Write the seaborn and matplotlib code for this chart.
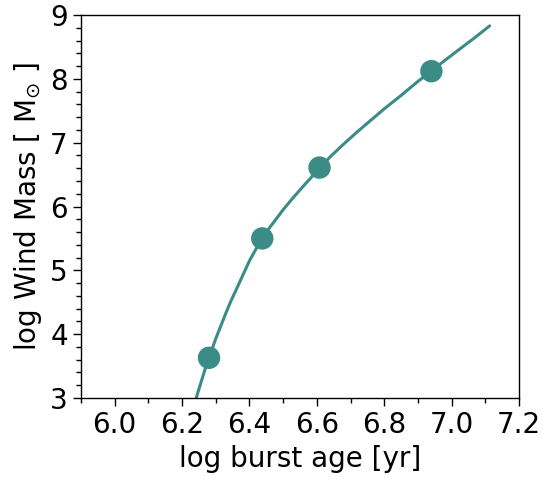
import matplotlib
matplotlib.use("Agg")
import matplotlib.pyplot as plt
import seaborn as sns
import pandas as pd
from matplotlib.ticker import MultipleLocator

# Curve
curve_age = [6.242, 6.25, 6.26, 6.27, 6.28, 6.29, 6.30, 6.315, 6.33, 6.345,
             6.36, 6.38, 6.40, 6.42, 6.438, 6.46, 6.50, 6.53, 6.56, 6.608,
             6.64, 6.68, 6.72, 6.76, 6.80, 6.85, 6.90, 6.94, 6.98, 7.03,
             7.07, 7.113]
curve_mass = [3.00, 3.14, 3.31, 3.48, 3.63, 3.78, 3.93, 4.13, 4.33, 4.52,
              4.69, 4.92, 5.15, 5.34, 5.50, 5.67, 5.95, 6.14, 6.32, 6.60,
              6.78, 6.98, 7.17, 7.35, 7.53, 7.74, 7.96, 8.12, 8.29, 8.49,
              8.65, 8.83]

# Markers
point_age = [6.28, 6.438, 6.608, 6.94]
point_mass = [3.63, 5.50, 6.61, 8.12]

x_ticks = [6.0, 6.2, 6.4, 6.6, 6.8, 7.0, 7.2]
x_tick_labels = ["6.0", "6.2", "6.4", "6.6", "6.8", "7.0", "7.2"]

color = "#3b8b87"

sns.set_style("ticks")
plt.rcParams['font.family'] = ['DejaVu Sans']
plt.rcParams['text.color'] = 'black'
plt.rcParams['axes.labelcolor'] = 'black'
plt.rcParams['xtick.color'] = 'black'
plt.rcParams['ytick.color'] = 'black'

fig = plt.figure(figsize=(5.43, 4.79), dpi=100)
ax = fig.add_axes([81/543, 1-398/479, (519-81)/543, (398-15)/479])

curve_df = pd.DataFrame({"age": curve_age, "mass": curve_mass})
pts_df = pd.DataFrame({"age": point_age, "mass": point_mass})

sns.lineplot(data=curve_df, x="age", y="mass", sort=False, color=color,
             linewidth=2.2, ax=ax)
sns.scatterplot(data=pts_df, x="age", y="mass", color=color, s=260,
                edgecolor="none", ax=ax, zorder=3)

ax.set_xlim(5.9, 7.2)
ax.set_ylim(3, 9)
ax.xaxis.set_minor_locator(MultipleLocator(0.1))
ax.yaxis.set_major_locator(MultipleLocator(1))
ax.yaxis.set_minor_locator(MultipleLocator(0.2))
ax.set_xticks(x_ticks)
ax.set_xticklabels(x_tick_labels)

ax.tick_params(axis='both', which='major', labelsize=20, length=6, width=1,
               direction='out', colors='black')
ax.tick_params(axis='both', which='minor', length=3.5, width=1, direction='out')
ax.tick_params(top=False, right=False, which='both')

for sp in ax.spines.values():
    sp.set_visible(True)
    sp.set_color('black')
    sp.set_linewidth(1.0)

ax.set_xlabel("log burst age [yr]", fontsize=20)
ax.set_ylabel(r"log Wind Mass [ M$_{\odot}$ ]", fontsize=20)

fig.savefig("out.png", dpi=100, facecolor="white")
